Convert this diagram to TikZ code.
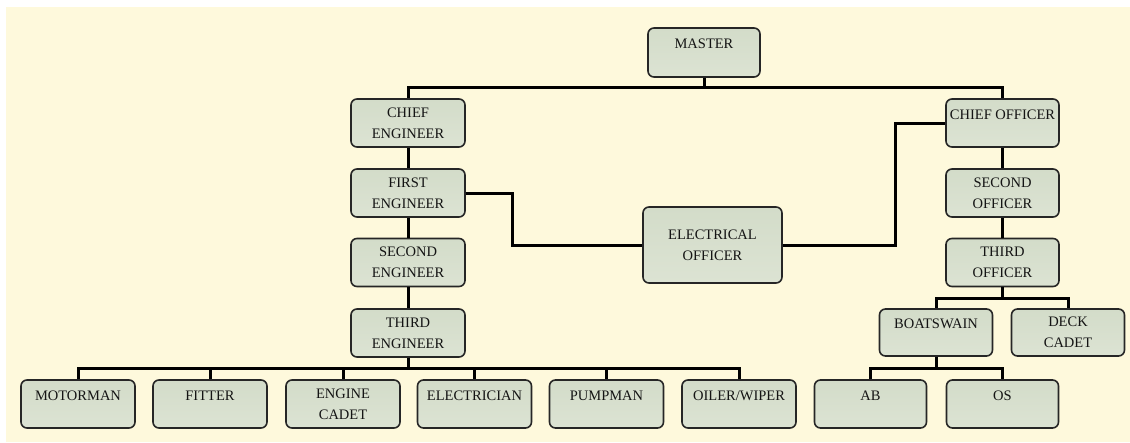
\documentclass[tikz,border=0pt]{standalone}
\usepackage{fontspec}
\setmainfont{Liberation Serif}
\definecolor{paper}{HTML}{FEF9DC}
\definecolor{boxtop}{HTML}{D3DCC9}
\definecolor{boxbot}{HTML}{DCE3D3}
\definecolor{rim}{HTML}{262626}
\definecolor{ink}{HTML}{141414}
% a one-line label kept near the top of its box
\newcommand{\topline}[1]{#1\\[-10pt]\strut}
\tikzset{
  post/.style={draw=rim, line width=1.6pt, rounded corners=6pt,
    top color=boxtop, bottom color=boxbot,
    minimum width=114pt, minimum height=48pt, inner sep=0pt,
    align=center, text=ink, font=\fontsize{14.5}{21}\selectfont},
  link/.style={line width=3pt, black}
}
\begin{document}
\begin{tikzpicture}[x=1pt,y=-1pt]
\useasboundingbox (0,0) rectangle (1130,442);
\fill[white] (0,0) rectangle (1130,442);
\fill[paper] (6,7) rectangle (1130,442);

% command chain
\node[post, minimum width=112pt, minimum height=49pt] (master) at (704,52.5) {\topline{MASTER}};

% engine department
\node[post] (ce) at (408,123) {CHIEF\\ENGINEER};
\node[post] (fe) at (408,193) {FIRST\\ENGINEER};
\node[post] (se) at (408,262.5) {SECOND\\ENGINEER};
\node[post] (te) at (408,333) {THIRD\\ENGINEER};

% deck department
\node[post, minimum width=113pt] (co) at (1002.5,123) {\topline{CHIEF OFFICER}};
\node[post, minimum width=113pt] (so) at (1002.5,193) {SECOND\\OFFICER};
\node[post, minimum width=113pt] (to) at (1002.5,262.5) {THIRD\\OFFICER};
\node[post, minimum width=113pt, minimum height=47pt] (bs) at (936,332.5) {\topline{BOATSWAIN}};
\node[post, minimum width=113pt, minimum height=47pt] (dc) at (1068,332.5) {DECK\\CADET};

% electrical officer between the departments
\node[post, minimum width=139pt, minimum height=76pt] (eo) at (712.5,245) {ELECTRICAL\\OFFICER};

% ratings
\node[post] (mo) at (78,404) {\topline{MOTORMAN}};
\node[post] (fi) at (210,404) {\topline{FITTER}};
\node[post] (ec) at (343,404) {ENGINE\\CADET};
\node[post] (el) at (474.5,404) {\topline{ELECTRICIAN}};
\node[post] (pu) at (606.5,404) {\topline{PUMPMAN}};
\node[post] (ow) at (739,404) {\topline{OILER/WIPER}};
\node[post, minimum width=112pt] (ab) at (870.5,404) {\topline{AB}};
\node[post, minimum width=112pt] (os) at (1002.5,404) {\topline{OS}};

% connectors
\draw[link] (master.south) -- ++(0,10) -| (ce.north);
\draw[link] (master.south) -- ++(0,10) -| (co.north);
\draw[link] (ce) -- (fe);
\draw[link] (fe) -- (se);
\draw[link] (se) -- (te);
\draw[link] (co) -- (so);
\draw[link] (so) -- (to);
\draw[link] (fe.east) -- ++(47,0) |- (eo.west);
\draw[link] (eo.east) -- ++(113,0) |- (co.west);
\foreach \n in {mo,fi,ec,el,pu,ow}
  \draw[link] (te.south) -- ++(0,11) -| (\n.north);
\foreach \n in {bs,dc}
  \draw[link] (to.south) -- ++(0,11.5) -| (\n.north);
\foreach \n in {ab,os}
  \draw[link] (bs.south) -- ++(0,12) -| (\n.north);
\end{tikzpicture}
\end{document}
